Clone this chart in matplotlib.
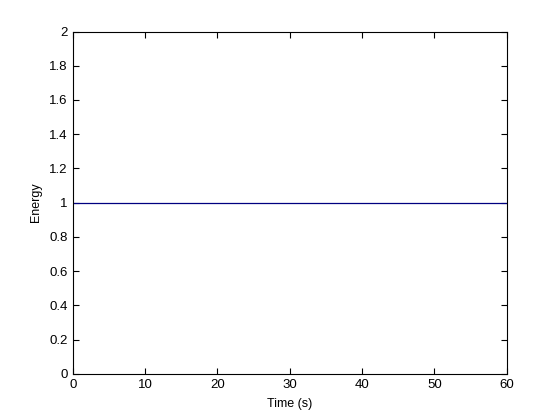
import matplotlib.pyplot as plt

# --- Data ---
time_s = [0, 60]
energy = [1.0, 1.0]

plt.rcParams['font.family'] = ['Liberation Sans', 'DejaVu Sans']

fig = plt.figure(figsize=(5.6, 4.2), dpi=100)
ax = fig.add_axes([0.13, 0.11, 0.775, 0.815])
ax.plot(time_s, energy, color='#000080', linewidth=0.9)

ax.set_xlim(0, 60)
ax.set_ylim(0, 2)
ax.set_xticks(range(0, 61, 10))
ax.set_yticks([i * 0.2 for i in range(11)])
ax.set_yticklabels(['0', '0.2', '0.4', '0.6', '0.8', '1', '1.2', '1.4', '1.6', '1.8', '2'])
ax.tick_params(direction='in', length=4, top=True, right=True, labelsize=9.5, width=0.8)
for s in ax.spines.values():
    s.set_linewidth(0.8)
ax.set_xlabel("Time (s)", fontsize=9, labelpad=5)
ax.set_ylabel("Energy", fontsize=9, labelpad=5)

fig.savefig("out.png", dpi=100)
